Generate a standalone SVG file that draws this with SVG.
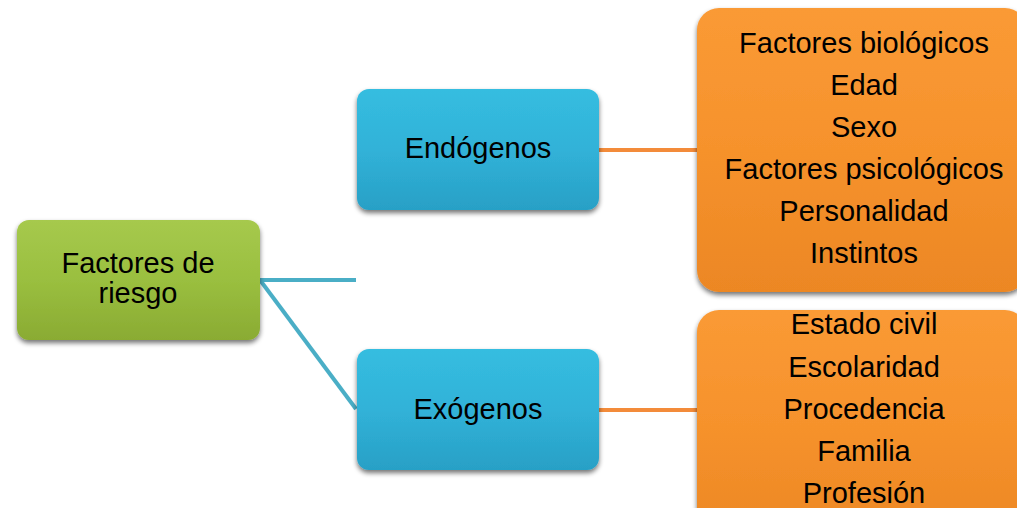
<svg xmlns="http://www.w3.org/2000/svg" width="1017" height="508" viewBox="0 0 1017 508">
  <defs>
    <linearGradient id="gGreen" x1="0" y1="0" x2="0" y2="1">
      <stop offset="0" stop-color="#a6c94d"/>
      <stop offset="0.5" stop-color="#9abf3f"/>
      <stop offset="1" stop-color="#8aab33"/>
    </linearGradient>
    <linearGradient id="gBlue" x1="0" y1="0" x2="0" y2="1">
      <stop offset="0" stop-color="#35bde0"/>
      <stop offset="0.5" stop-color="#31b2d8"/>
      <stop offset="1" stop-color="#28a0c6"/>
    </linearGradient>
    <linearGradient id="gOrange" x1="0" y1="0" x2="0" y2="1">
      <stop offset="0" stop-color="#fa9a35"/>
      <stop offset="0.5" stop-color="#f6922c"/>
      <stop offset="1" stop-color="#ec8724"/>
    </linearGradient>
    <filter id="shadow" x="-10%" y="-10%" width="120%" height="130%">
      <feGaussianBlur in="SourceAlpha" stdDeviation="2.5"/>
      <feOffset dx="0" dy="3" result="b"/>
      <feComponentTransfer><feFuncA type="linear" slope="0.55"/></feComponentTransfer>
      <feMerge><feMergeNode/><feMergeNode in="SourceGraphic"/></feMerge>
    </filter>
  </defs>
  <style>
    .lbl { font-family: "Liberation Sans", Arial, sans-serif; font-size: 29px; fill: #000; text-anchor: middle; }
    .item { font-family: "Liberation Sans", Arial, sans-serif; font-size: 29px; fill: #000; text-anchor: middle; }
    .edge-blue { stroke: #4aaec6; stroke-width: 4; fill: none; }
    .edge-orange { stroke: #f38b3a; stroke-width: 4; fill: none; }
  </style>
  <rect width="1017" height="508" fill="#ffffff"/>

  <!-- connectors -->
  <g id="connectors">
    <line class="edge-blue" x1="260" y1="280" x2="356" y2="280"/>
    <line class="edge-blue" x1="260" y1="280" x2="356" y2="409"/>
    <line class="edge-orange" x1="599" y1="150" x2="697" y2="150"/>
    <line class="edge-orange" x1="599" y1="410" x2="697" y2="410"/>
  </g>

  <!-- root node -->
  <g id="factores-riesgo">
    <rect x="17" y="220" width="243" height="120" rx="12" fill="url(#gGreen)" filter="url(#shadow)"/>
    <text class="lbl" x="138" y="273">Factores de</text>
    <text class="lbl" x="138" y="303">riesgo</text>
  </g>

  <g id="endogenos">
    <rect x="357" y="89" width="242" height="121" rx="12" fill="url(#gBlue)" filter="url(#shadow)"/>
    <text class="lbl" x="478" y="158">Endógenos</text>
  </g>

  <g id="exogenos">
    <rect x="357" y="349" width="242" height="121" rx="12" fill="url(#gBlue)" filter="url(#shadow)"/>
    <text class="lbl" x="478" y="419">Exógenos</text>
  </g>

  <g id="lista-endogenos">
    <rect x="697" y="8" width="330" height="284" rx="22" fill="url(#gOrange)" filter="url(#shadow)"/>
    <text class="item" x="864" y="53">Factores biológicos</text>
    <text class="item" x="864" y="95">Edad</text>
    <text class="item" x="864" y="137">Sexo</text>
    <text class="item" x="864" y="179">Factores psicológicos</text>
    <text class="item" x="864" y="221">Personalidad</text>
    <text class="item" x="864" y="263">Instintos</text>
  </g>

  <g id="lista-exogenos">
    <rect x="697" y="310" width="330" height="230" rx="22" fill="url(#gOrange)" filter="url(#shadow)"/>
    <text class="item" x="864" y="334">Estado civil</text>
    <text class="item" x="864" y="377">Escolaridad</text>
    <text class="item" x="864" y="419">Procedencia</text>
    <text class="item" x="864" y="461">Familia</text>
    <text class="item" x="864" y="503">Profesión</text>
  </g>
</svg>
